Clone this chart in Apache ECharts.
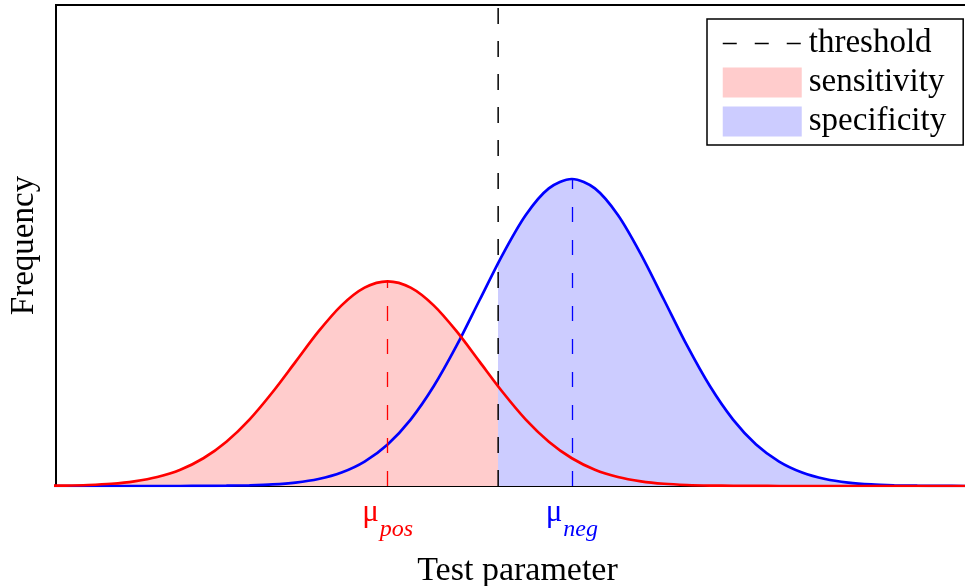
<!DOCTYPE html>
<html>
<head>
<meta charset="utf-8">
<script src="https://cdn.jsdelivr.net/npm/echarts@6/dist/echarts.min.js"></script>
<style>html,body{margin:0;padding:0;background:#fff;}#c{width:965px;height:586px;}</style>
</head>
<body>
<div id="c"></div>
<script>
// Test parameter sample positions
const xs = [-3.75,-3.5,-3.25,-3,-2.75,-2.5,-2.25,-2,-1.75,-1.5,-1.25,-1,-0.75,-0.5,-0.25,0,0.25,0.5,0.75,1,1.25,1.5,1.75,2,2.25,2.5,2.75,3,3.25,3.5,3.75,4,4.25,4.5,4.75,5,5.25,5.5,5.75,6,6.25,6.5];
// Frequency of positives (red curve)
const posFreq = [0.0002,0.0004,0.0010,0.0022,0.0046,0.0088,0.0159,0.0271,0.0433,0.0649,0.0916,0.1213,0.1510,0.1765,0.1938,0.2000,0.1938,0.1765,0.1510,0.1213,0.0916,0.0649,0.0433,0.0271,0.0159,0.0088,0.0046,0.0022,0.0010,0.0004,0.0002,0.0001,0,0,0,0,0,0,0,0,0,0];
// Frequency of negatives (blue curve)
const negFreq = [0,0,0,0,0,0,0,0.0001,0.0003,0.0007,0.0015,0.0033,0.0068,0.0132,0.0239,0.0406,0.0649,0.0974,0.1373,0.1820,0.2264,0.2648,0.2908,0.3000,0.2908,0.2648,0.2264,0.1820,0.1373,0.0974,0.0649,0.0406,0.0239,0.0132,0.0068,0.0033,0.0015,0.0007,0.0003,0.0001,0,0];
const muPos = 0;
const muNeg = 2;
const threshold = 1.2;
const posPeak = 0.2;
const negPeak = 0.3;
const xMin = -3.6, xMax = 6.42, yMax = 0.47;
const legendNames = ['threshold','sensitivity','specificity'];
const xTitle = 'Test parameter';
const yTitle = 'Frequency';

const serif = 'Liberation Serif, Times New Roman, serif';
const pair = (a, b) => a.map((v, i) => [v, b[i]]);
const posData = pair(xs, posFreq);
const negData = pair(xs, negFreq);
const xFirst = xs[0], xLast = xs[xs.length - 1];

const chart = echarts.init(document.getElementById('c'));
chart.setOption({
  animation: false,
  backgroundColor: '#fff',
  grid: { left: 56, right: -14, top: 5, bottom: 100, outerBoundsMode: 'none', containLabel: false,
    show: true, borderColor: '#000', borderWidth: 2, backgroundColor: 'transparent' },
  xAxis: {
    type: 'value', min: xMin, max: xMax,
    axisLine: { show: false }, axisTick: { show: false }, splitLine: { show: false },
    name: xTitle, nameLocation: 'middle', nameGap: 68,
    nameTextStyle: { fontFamily: serif, fontSize: 34, color: '#000' },
    axisLabel: {
      show: true,
      customValues: [muPos, muNeg],
      margin: 11,
      formatter: function (v) { return v === muPos ? '{a|μ}{b|pos}' : '{c|μ}{d|neg}'; },
      rich: {
        a: { fontFamily: serif, fontSize: 31, color: '#ff0000', lineHeight: 31, verticalAlign: 'top' },
        b: { fontFamily: serif, fontSize: 24, fontStyle: 'italic', color: '#ff0000', lineHeight: 24, padding: [21, 0, 0, 1], verticalAlign: 'top' },
        c: { fontFamily: serif, fontSize: 31, color: '#0000ff', lineHeight: 31, verticalAlign: 'top' },
        d: { fontFamily: serif, fontSize: 24, fontStyle: 'italic', color: '#0000ff', lineHeight: 24, padding: [21, 0, 0, 1], verticalAlign: 'top' }
      }
    }
  },
  yAxis: {
    type: 'value', min: 0, max: yMax,
    axisLine: { show: false }, axisTick: { show: false }, splitLine: { show: false }, axisLabel: { show: false },
    name: yTitle, nameLocation: 'middle', nameGap: 15, nameRotate: 90,
    nameTextStyle: { fontFamily: serif, fontSize: 33, color: '#000' }
  },
  legend: {
    orient: 'vertical', left: 707, top: 19,
    padding: [8, 17, 7, 15],
    itemWidth: 79, itemHeight: 30, itemGap: 6,
    backgroundColor: '#fff', borderColor: '#000', borderWidth: 1.5, borderRadius: 0,
    textStyle: { fontFamily: serif, fontSize: 33, color: '#000', lineHeight: 30, padding: [0, 0, 0, 2] },
    data: [
      { name: legendNames[0], lineStyle: { color: '#000', width: 1.5, type: [14, 18] },
        itemStyle: { color: 'rgba(0,0,0,0)', borderWidth: 0, opacity: 0 } },
      { name: legendNames[1], icon: 'rect', itemStyle: { color: '#ffcccc', borderWidth: 0 } },
      { name: legendNames[2], icon: 'rect', itemStyle: { color: '#ccccff', borderWidth: 0 } }
    ],
    selectedMode: false
  },
  visualMap: [
    { type: 'piecewise', show: false, dimension: 0, seriesIndex: 0,
      pieces: [{ gte: xFirst, lt: threshold, color: '#ffcccc' }, { gte: threshold, lte: xLast, color: 'rgba(255,204,204,0)' }] },
    { type: 'piecewise', show: false, dimension: 0, seriesIndex: 1,
      pieces: [{ gte: xFirst, lt: threshold, color: 'rgba(204,204,255,0)' }, { gte: threshold, lte: xLast, color: '#ccccff' }] }
  ],
  series: [
    { name: legendNames[1], type: 'line', data: posData, smooth: 0.3, symbol: 'none',
      lineStyle: { width: 0, opacity: 0 }, areaStyle: { opacity: 1 }, z: 1 },
    { name: legendNames[2], type: 'line', data: negData, smooth: 0.3, symbol: 'none',
      lineStyle: { width: 0, opacity: 0 }, areaStyle: { opacity: 1 }, z: 1 },
    { name: legendNames[0], type: 'line', data: [[threshold, 0], [threshold, yMax]], symbol: 'none',
      lineStyle: { color: '#000', width: 1.5, type: [16, 17] }, itemStyle: { color: '#000' }, z: 2 },
    { name: 'neg', type: 'line', data: negData, smooth: 0.3, symbol: 'none',
      lineStyle: { color: '#0000ff', width: 2.7 }, itemStyle: { color: '#0000ff' }, z: 3,
      markLine: { silent: true, symbol: ['none', 'none'], label: { show: false },
        lineStyle: { color: '#0000ff', width: 1.3, type: [15, 18] },
        data: [[{ coord: [muNeg, 0] }, { coord: [muNeg, negPeak] }]] } },
    { name: 'pos', type: 'line', data: posData, smooth: 0.3, symbol: 'none',
      lineStyle: { color: '#ff0000', width: 2.7 }, itemStyle: { color: '#ff0000' }, z: 4,
      markLine: { silent: true, symbol: ['none', 'none'], label: { show: false },
        lineStyle: { color: '#ff0000', width: 1.3, type: [15, 18] },
        data: [[{ coord: [muPos, 0] }, { coord: [muPos, posPeak] }]] } }
  ]
});
</script>
</body>
</html>
